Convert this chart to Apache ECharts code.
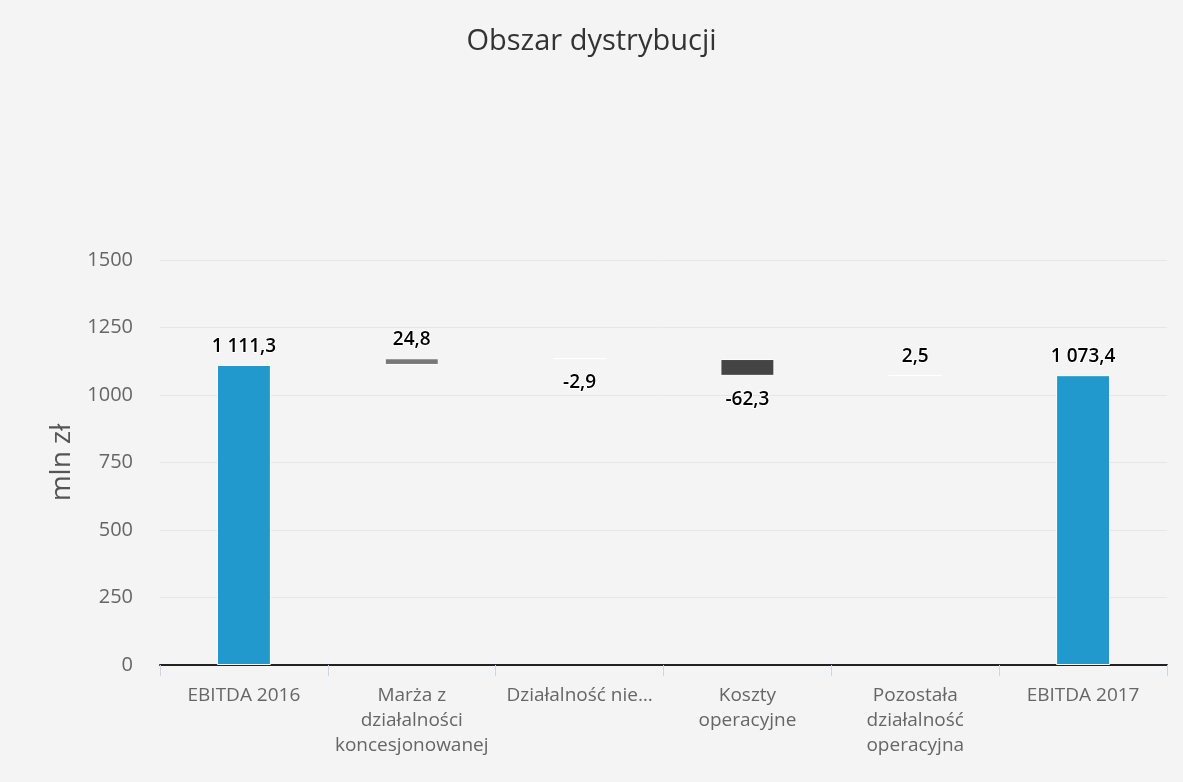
<!DOCTYPE html>
<html>
<head>
<meta charset="utf-8">
<script src="https://cdn.jsdelivr.net/npm/echarts@6/dist/echarts.min.js"></script>
<style>
html,body{margin:0;padding:0;background:#f4f4f4;}
#chart{width:1183px;height:782px;}
</style>
</head>
<body>
<div id="chart"></div>
<script>
var categories = ["EBITDA 2016", "Marża z\ndziałalności\nkoncesjonowanej", "Działalność nie…", "Koszty\noperacyjne", "Pozostała\ndziałalność\noperacyjna", "EBITDA 2017"];
var values = [1111.3, 24.8, -2.9, -62.3, 2.5, 1073.4];
var isTotal = [true, false, false, false, false, true];
var yTicks = [0, 250, 500, 750, 1000, 1250, 1500];

var barColors = ["#2199cc", "#777777", "#ffffff", "#444444", "#ffffff", "#2199cc"];
var FONT = "'Open Sans','Noto Sans',sans-serif";

// waterfall bases
var base = [], vis = [], running = 0;
for (var i = 0; i < values.length; i++) {
  if (isTotal[i]) { base.push(0); vis.push(values[i]); running = values[i]; }
  else {
    var next = running + values[i];
    base.push(Math.min(running, next));
    vis.push(Math.abs(values[i]));
    running = next;
  }
}
function fmt(v) {
  var neg = v < 0; v = Math.abs(v);
  var s = v.toFixed(1).split('.');
  var intp = s[0].replace(/\B(?=(\d{3})+(?!\d))/g, ' ');
  return (neg ? '-' : '') + intp + ',' + s[1];
}
var visData = vis.map(function (v, i) {
  return {
    value: v,
    itemStyle: { color: barColors[i] },
    label: { position: values[i] < 0 ? 'bottom' : 'top', distance: values[i] < 0 ? 14 : 9 }
  };
});

var chart = echarts.init(document.getElementById('chart'));
chart.setOption({
  backgroundColor: '#f4f4f4',
  animation: false,
  title: {
    text: 'Obszar dystrybucji', left: 'center', top: 22,
    textStyle: { fontFamily: FONT, fontSize: 29, fontWeight: 'normal', color: '#333' }
  },
  grid: { left: 160, right: 16, top: 260, bottom: 117 },
  xAxis: {
    type: 'category', data: categories,
    axisLine: { lineStyle: { color: '#222', width: 2 } },
    axisTick: { show: true, length: 11, lineStyle: { color: '#ccd6eb', width: 1 } },
    axisLabel: { fontFamily: FONT, fontSize: 19, color: '#666', lineHeight: 25, margin: 18, interval: 0 }
  },
  yAxis: {
    type: 'value', min: 0, max: 1500, interval: 250,
    name: 'mln zł', nameLocation: 'middle', nameGap: 64, nameRotate: 90,
    nameTextStyle: { fontFamily: FONT, fontSize: 28, color: '#555' },
    axisLine: { show: false }, axisTick: { show: false },
    axisLabel: { fontFamily: FONT, fontSize: 20, color: '#666', margin: 27,
      formatter: function (v) { return yTicks.indexOf(v) >= 0 ? String(v) : ''; } },
    splitLine: { lineStyle: { color: '#e6e6e6', width: 1 } }
  },
  series: [
    { type: 'bar', stack: 'w', data: base, barWidth: 54, silent: true,
      itemStyle: { color: 'transparent' } },
    { type: 'bar', stack: 'w', data: visData, barWidth: 54,
      itemStyle: { borderColor: '#ffffff', borderWidth: 1 },
      label: {
        show: true, fontFamily: FONT, fontSize: 19, fontWeight: 600, color: '#000',
        textBorderColor: '#fff', textBorderWidth: 2,
        formatter: function (p) { return fmt(values[p.dataIndex]); }
      }
    }
  ]
});
</script>
</body>
</html>
